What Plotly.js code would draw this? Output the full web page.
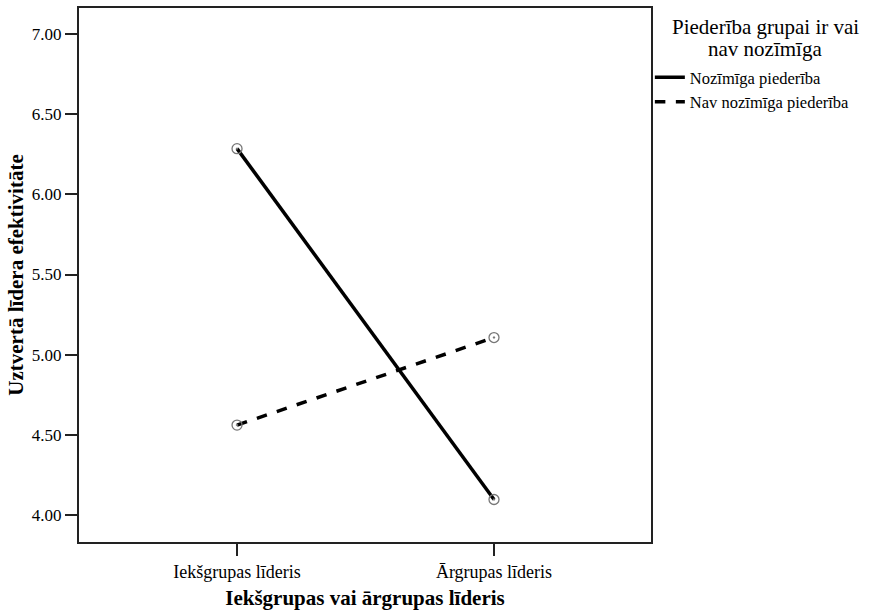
<!DOCTYPE html>
<html>
<head>
<meta charset="utf-8">
<script src="https://cdn.plot.ly/plotly-3.0.1.min.js"></script>
<style>html,body{margin:0;padding:0;background:#fff;}#chart{width:874px;height:611px;}</style>
</head>
<body>
<div id="chart"></div>
<script>
const categories = ["Iekšgrupas līderis", "Ārgrupas līderis"];
const seriesNames = ["Nozīmīga piederība", "Nav nozīmīga piederība"];
const significantValues = [6.285, 4.097];
const notSignificantValues = [4.561, 5.107];
const yTickValues = [4.0, 4.5, 5.0, 5.5, 6.0, 6.5, 7.0];
const yTickLabels = ["4.00", "4.50", "5.00", "5.50", "6.00", "6.50", "7.00"];
const legendTitleLines = ["Piederība grupai ir vai", "nav nozīmīga"];
const xTitle = "Iekšgrupas vai ārgrupas līderis";
const yTitle = "Uztvertā līdera efektivitāte";

const FONT = "Liberation Serif";
const xIdx = categories.map((c, i) => i);

const marker = {symbol: "circle-open-dot", size: 10, color: "#777", line: {width: 1.3, color: "#777"}};
const dashes = ["solid", "dash"];
const seriesValues = [significantValues, notSignificantValues];

const traces = [];
seriesValues.forEach((vals, i) => {
  traces.push({x: xIdx, y: vals, name: seriesNames[i], type: "scatter", mode: "lines+markers",
    showlegend: false, line: {color: "#000", width: 3.5, dash: dashes[i]}, marker: marker});
});
seriesValues.forEach((vals, i) => {
  traces.push({x: [null], y: [null], name: seriesNames[i], type: "scatter", mode: "lines",
    showlegend: true, line: {color: "#000", width: 3.5, dash: dashes[i]}});
});

const layout = {
  width: 874, height: 611,
  margin: {l: 79, r: 223, t: 8, b: 69},
  paper_bgcolor: "#fff", plot_bgcolor: "#fff",
  font: {family: FONT, size: 16, color: "#000"},
  showlegend: true,
  xaxis: {
    range: [-0.615, 1.611], tickmode: "array", tickvals: xIdx, ticktext: categories,
    showgrid: false, zeroline: false, showline: true, linecolor: "#222", linewidth: 2,
    mirror: true, ticks: "outside", ticklen: 12, tickwidth: 2, tickcolor: "#222",
    tickfont: {family: FONT, size: 18, color: "#000"},
    title: {text: xTitle, font: {family: FONT, size: 21, color: "#000", weight: "bold"}, standoff: 10}
  },
  yaxis: {
    range: [3.832, 7.162], tickmode: "array", tickvals: yTickValues, ticktext: yTickLabels,
    showgrid: false, zeroline: false, showline: true, linecolor: "#222", linewidth: 2,
    mirror: true, ticks: "outside", ticklen: 12, tickwidth: 2, tickcolor: "#222",
    tickfont: {family: FONT, size: 17, color: "#000"},
    title: {text: yTitle, font: {family: FONT, size: 21, color: "#000", weight: "bold"}, standoff: 2}
  },
  legend: {
    x: 0.998, xanchor: "left", y: 0.9025, yanchor: "top",
    font: {family: FONT, size: 16.5, color: "#000"},
    bgcolor: "rgba(0,0,0,0)", borderwidth: 0, tracegroupgap: 0, itemwidth: 30
  },
  annotations: legendTitleLines.map((t, i) => ({
    text: t, xref: "paper", yref: "paper", x: 1.2, y: [0.9644, 0.9232][i],
    xanchor: "center", yanchor: "middle", showarrow: false, align: "center",
    font: {family: FONT, size: 21, color: "#000"}
  }))
};

Plotly.newPlot("chart", traces, layout, {displayModeBar: false, staticPlot: true});
</script>
</body>
</html>
